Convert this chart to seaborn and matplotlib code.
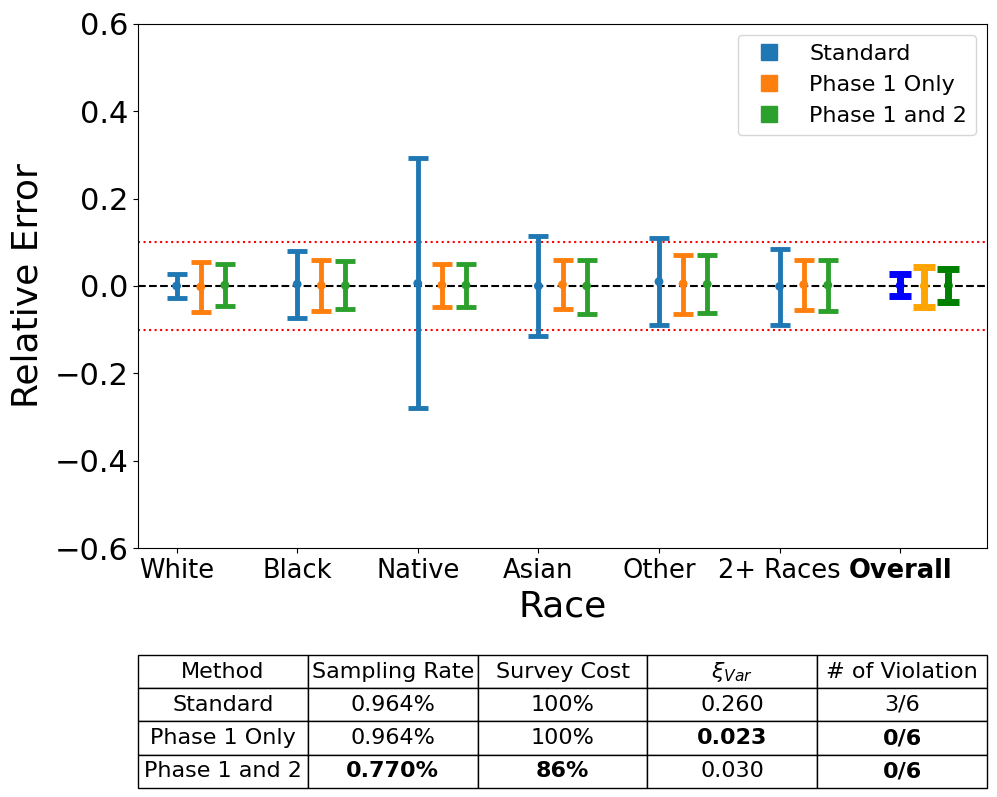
import numpy as np
import pandas as pd
import matplotlib
matplotlib.use("Agg")
import matplotlib.pyplot as plt
import seaborn as sns
from matplotlib.lines import Line2D

# Data
categories = ["White", "Black", "Native", "Asian", "Other", "2+ Races", "Overall"]
methods = ["Standard", "Phase 1 Only", "Phase 1 and 2"]

standard_mid = [0.000, 0.004, 0.006, 0.000, 0.010, -0.001, 0.001]
standard_lo = [-0.027, -0.073, -0.279, -0.114, -0.089, -0.089, -0.024]
standard_hi = [0.027, 0.080, 0.292, 0.114, 0.110, 0.085, 0.027]

phase1_mid = [-0.002, 0.001, 0.002, 0.003, 0.005, 0.003, 0.000]
phase1_lo = [-0.060, -0.057, -0.048, -0.053, -0.064, -0.055, -0.048]
phase1_hi = [0.055, 0.060, 0.051, 0.060, 0.071, 0.060, 0.044]

phase12_mid = [0.002, 0.001, 0.002, 0.000, 0.004, 0.002, 0.001]
phase12_lo = [-0.046, -0.053, -0.048, -0.064, -0.063, -0.057, -0.037]
phase12_hi = [0.050, 0.057, 0.051, 0.060, 0.071, 0.060, 0.039]

table_cols = ["Method", "Sampling Rate", "Survey Cost", r"$\xi_{Var}$", "# of Violation"]
table_rows = [
    ["Standard", "0.964%", "100%", "0.260", "3/6"],
    ["Phase 1 Only", "0.964%", "100%", "0.023", "0/6"],
    ["Phase 1 and 2", "0.770%", "86%", "0.030", "0/6"],
]
bold_cells = [(2, 3), (2, 4), (3, 1), (3, 2), (3, 4)]

palette = sns.color_palette("tab10", 3)
overall_colors = ["blue", "orange", "green"]
offsets = [0.0, 0.2, 0.4]
series = [
    (standard_mid, standard_lo, standard_hi),
    (phase1_mid, phase1_lo, phase1_hi),
    (phase12_mid, phase12_lo, phase12_hi),
]

# Long-form frame for the centre points
rows = []
for k, (m, (mid, lo, hi)) in enumerate(zip(methods, series)):
    for i, cat in enumerate(categories):
        rows.append({"Method": m, "Race": cat, "x": i + offsets[k],
                     "mid": mid[i], "lo": lo[i], "hi": hi[i]})
df = pd.DataFrame(rows)

fig, ax = plt.subplots(figsize=(9.97, 7.97), dpi=100)
fig.subplots_adjust(left=0.1384, right=0.990, top=0.970, bottom=0.3124)

n = len(categories)
for k, m in enumerate(methods):
    sub = df[df["Method"] == m]
    main = sub[sub["Race"] != "Overall"]
    over = sub[sub["Race"] == "Overall"]
    ax.errorbar(main["x"], main["mid"],
                yerr=[main["mid"] - main["lo"], main["hi"] - main["mid"]],
                fmt="none", ecolor=palette[k], elinewidth=3.5, capsize=7.5, capthick=3.5)
    ax.errorbar(over["x"], over["mid"],
                yerr=[over["mid"] - over["lo"], over["hi"] - over["mid"]],
                fmt="none", ecolor=overall_colors[k], elinewidth=5, capsize=8, capthick=5)
    sns.scatterplot(data=main, x="x", y="mid", color=palette[k], s=40,
                    edgecolor="none", ax=ax, zorder=3, legend=False)
    sns.scatterplot(data=over, x="x", y="mid", color=overall_colors[k], s=40,
                    edgecolor="none", ax=ax, zorder=3, legend=False)

ax.axhline(0, color="black", linestyle="--", linewidth=1.5, zorder=1)
ax.axhline(0.1, color="red", linestyle=":", linewidth=1.5, zorder=1)
ax.axhline(-0.1, color="red", linestyle=":", linewidth=1.5, zorder=1)

ax.set_ylim(-0.6, 0.6)
ax.set_yticks(np.arange(-0.6, 0.61, 0.2))
ax.tick_params(axis="y", labelsize=22)
ax.set_xticks(range(n))
ax.set_xticklabels(categories, fontsize=18.5)
ax.get_xticklabels()[-1].set_fontweight("bold")
ax.set_xlabel("Race", fontsize=26, labelpad=4)
ax.set_ylabel("Relative Error", fontsize=26, labelpad=7)

handles = [Line2D([], [], marker="s", linestyle="none", color=c, markersize=11) for c in palette]
ax.legend(handles, methods, loc="upper right", fontsize=16)

tbl = ax.table(cellText=table_rows, colLabels=table_cols, cellLoc="center",
               bbox=[0, -0.458, 1.0, 0.254])
tbl.auto_set_font_size(False)
tbl.set_fontsize(16)
for (r, c) in bold_cells:
    tbl[r, c].get_text().set_fontweight("bold")

fig.savefig("out.png", dpi=100)
